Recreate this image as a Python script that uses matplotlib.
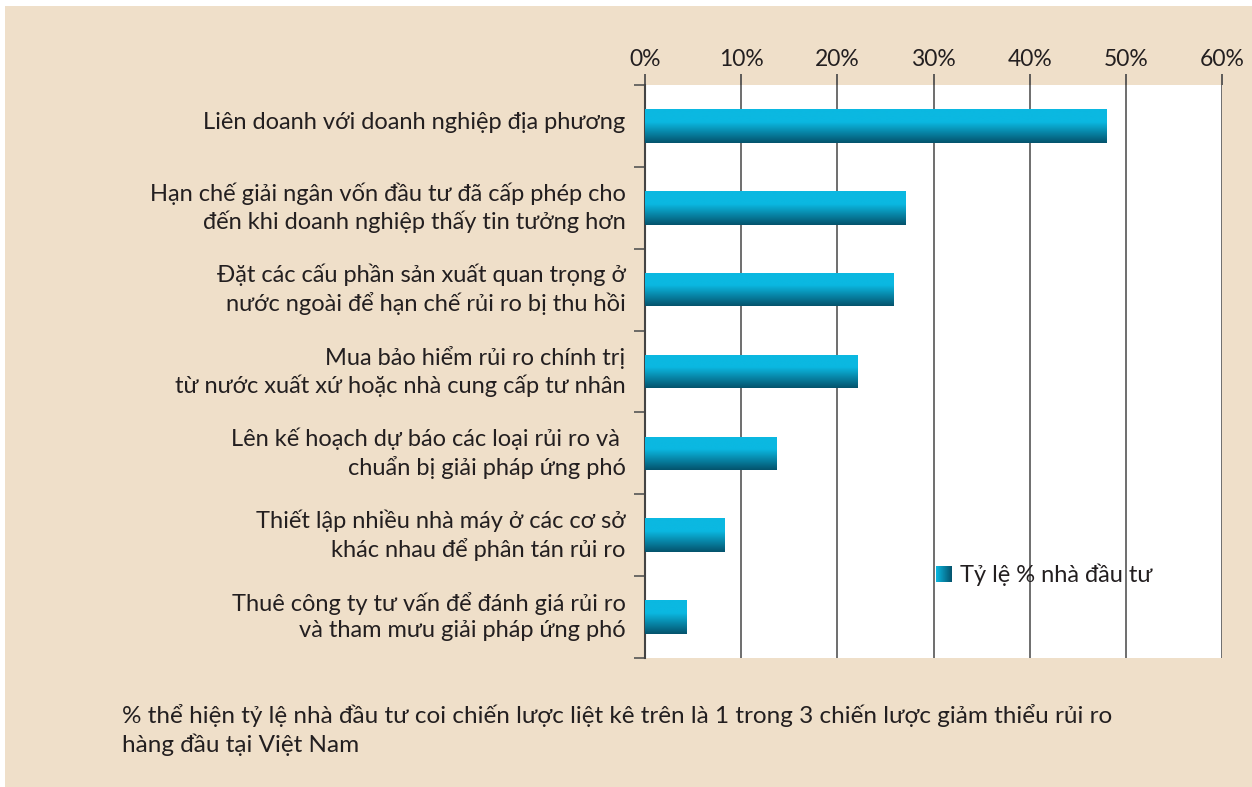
import numpy as np
import matplotlib
matplotlib.use('Agg')
import matplotlib.pyplot as plt
from matplotlib.colors import LinearSegmentedColormap
from matplotlib.patches import Rectangle
from matplotlib.transforms import ScaledTranslation

# data
labels = ['Liên doanh với doanh nghiệp địa phương',
          'Hạn chế giải ngân vốn đầu tư đã cấp phép cho\nđến khi doanh nghiệp thấy tin tưởng hơn',
          'Đặt các cấu phần sản xuất quan trọng ở\nnước ngoài để hạn chế rủi ro bị thu hồi',
          'Mua bảo hiểm rủi ro chính trị\ntừ nước xuất xứ hoặc nhà cung cấp tư nhân',
          'Lên kế hoạch dự báo các loại rủi ro và \nchuẩn bị giải pháp ứng phó',
          'Thiết lập nhiều nhà máy ở các cơ sở\nkhác nhau để phân tán rủi ro',
          'Thuê công ty tư vấn để đánh giá rủi ro\nvà tham mưu giải pháp ứng phó']
values = [48.0, 27.1, 25.8, 22.1, 13.7, 8.3, 4.3]
xticks = [0, 10, 20, 30, 40, 50, 60]
series_name = 'Tỷ lệ % nhà đầu tư'
note = ('% thể hiện tỷ lệ nhà đầu tư coi chiến lược liệt kê trên là 1 trong 3 chiến lược giảm thiểu rủi ro\n'
        'hàng đầu tại Việt Nam')

plt.rcParams['font.family'] = ['Lato', 'DejaVu Sans']
bg = '#EFDFC9'
txt = '#231F20'
cmap = LinearSegmentedColormap.from_list('bar', [(0, '#0BB8E1'), (0.38, '#0BB8E1'), (1, '#04536D')])

fig = plt.figure(figsize=(12.52, 7.87), dpi=100)
fig.patch.set_facecolor('white')
fig.patches.append(Rectangle((5 / 1252, 0), 1, 1 - 6 / 787, transform=fig.transFigure,
                             facecolor=bg, edgecolor='none', zorder=-10))

ax = fig.add_axes([645 / 1252, 1 - 658 / 787, 577 / 1252, 573 / 787])
ax.set_facecolor('white')

y = np.arange(len(labels))
bars = ax.barh(y, values, height=0.41, color='none', zorder=3)
grad = np.linspace(0, 1, 100).reshape(-1, 1)
for b in bars:
    x0, y0, w, h = b.get_x(), b.get_y(), b.get_width(), b.get_height()
    im = ax.imshow(grad, cmap=cmap, aspect='auto', extent=[x0, x0 + w, y0 + h, y0],
                   origin='upper', zorder=3)
    im.set_clip_path(b)

ax.set_xlim(0, 60)
ax.set_ylim(len(labels) - 0.5, -0.5)
ax.set_xticks(xticks)
ax.set_xticklabels([f'{t}%' for t in xticks], fontsize=16.5, color=txt)
ax.xaxis.tick_top()
ax.tick_params(axis='x', length=8, width=1.2, color='#444444', pad=3)
ax.grid(axis='x', color='#555555', lw=1.2, zorder=1)

ax.set_yticks(y)
ax.set_yticklabels(labels, fontsize=17, color=txt, linespacing=1.3)
ax.set_yticks(np.arange(len(labels) + 1) - 0.5, minor=True)
ax.tick_params(axis='y', which='major', length=0, pad=14)
ax.tick_params(axis='y', which='minor', length=8, width=1.2, color='#555555')
shift = ScaledTranslation(0, 5 / 100, fig.dpi_scale_trans)
for lab in ax.get_yticklabels():
    lab.set_transform(lab.get_transform() + shift)

for s in ['right', 'bottom', 'top']:
    ax.spines[s].set_visible(False)
ax.spines['left'].set_color('#444444')
ax.spines['left'].set_linewidth(1.5)

leg = ax.legend([Rectangle((0, 0), 1, 1, facecolor='#0A86A8')], [series_name],
                loc='center left', bbox_to_anchor=(0.468, 0.145), frameon=False,
                fontsize=17, handlelength=0.65, handleheight=0.65, handletextpad=0.35,
                labelcolor=txt)

fig.text(122 / 1252, 1 - 704 / 787, note, fontsize=17.5, color=txt, va='top', ha='left',
         linespacing=1.35)

# gradient for the legend square
fig.canvas.draw()
hb = leg.legend_handles[0].get_window_extent().transformed(fig.transFigure.inverted())
lax = fig.add_axes([hb.x0, hb.y0, hb.width, hb.height])
lax.imshow(np.linspace(0, 1, 50).reshape(1, -1),
           cmap=LinearSegmentedColormap.from_list('lg', ['#0BB8E1', '#04536D']), aspect='auto')
lax.axis('off')

fig.savefig('out.png', dpi=100, facecolor=fig.get_facecolor())
